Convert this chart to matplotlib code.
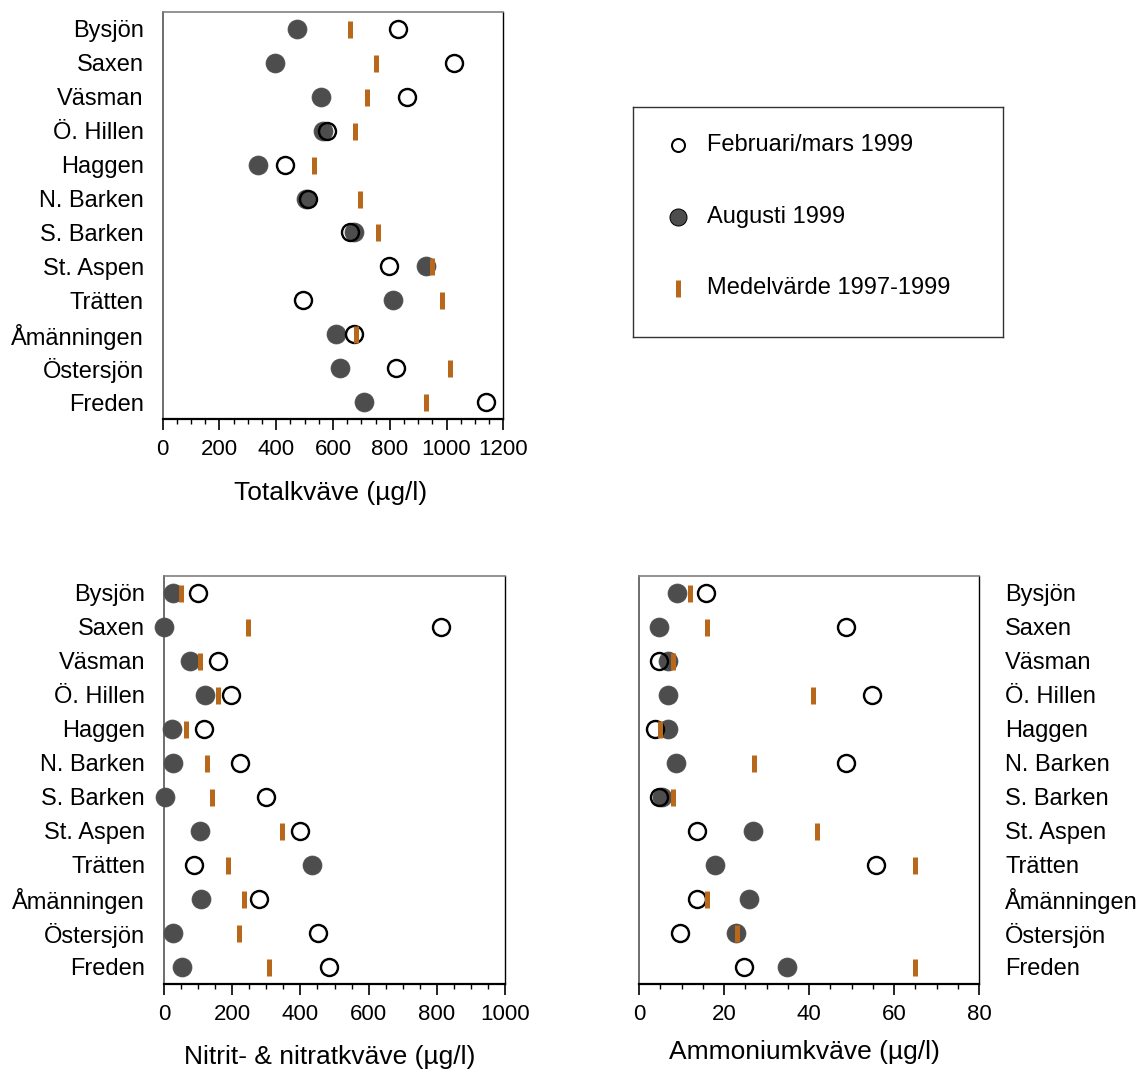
import matplotlib
matplotlib.use("Agg")
import matplotlib.pyplot as plt
import numpy as np
from matplotlib.ticker import MultipleLocator

plt.rcParams['font.family'] = ['Liberation Sans', 'DejaVu Sans']

lakes = ["Bysjön", "Saxen", "Väsman", "Ö. Hillen", "Haggen", "N. Barken",
         "S. Barken", "St. Aspen", "Trätten", "Åmänningen", "Östersjön", "Freden"]

# Totalkväve (µg/l)
tot_feb = [830, 1025, 862, 578, 432, 513, 659, 796, 494, 675, 822, 1140]
tot_aug = [474, 394, 558, 566, 337, 504, 675, 929, 812, 611, 625, 708]
tot_mean = [659, 750, 721, 679, 532, 696, 758, 949, 983, 680, 1011, 928]

# Nitrit- & nitratkväve (µg/l)
nit_feb = [101, 813, 157, 197, 118, 223, 299, 398, 89, 280, 453, 483]
nit_aug = [27, 0, 75, 121, 24, 27, 3, 106, 435, 109, 27, 52]
nit_mean = [51, 247, 107, 158, 65, 127, 142, 347, 188, 236, 219, 308]

# Ammoniumkväve (µg/l)
amm_feb = [15.8, 48.7, 4.7, 54.7, 3.8, 48.7, 4.8, 13.7, 55.7, 13.7, 9.7, 24.7]
amm_aug = [8.9, 4.8, 6.7, 6.8, 6.8, 8.8, 5.3, 26.7, 17.8, 25.8, 22.7, 34.8]
amm_mean = [11.9, 15.9, 8.0, 41.0, 5.0, 27.0, 8.0, 41.9, 65.0, 16.0, 23.0, 65.0]

legend_labels = ["Februari/mars 1999", "Augusti 1999", "Medelvärde 1997-1999"]

W, H = 1141, 1074
DPI = 100
fig = plt.figure(figsize=(W / DPI, H / DPI), dpi=DPI)

GREY = "#4d4d4d"
ORANGE = "#b8681a"
PX = 72 / DPI  # points per pixel


def ax_px(l, t, r, b):
    return fig.add_axes([l / W, 1 - b / H, (r - l) / W, (b - t) / H])


def draw_panel(ax, feb, aug, mean, xmax, major, minor, right_labels=False):
    y = np.arange(len(lakes))
    ax.plot(aug, y, linestyle='none', marker='o', ms=19 * PX, mfc=GREY, mec=GREY,
            mew=0.5, clip_on=False, zorder=3)
    ax.plot(feb, y, linestyle='none', marker='o', ms=17 * PX, mfc='none', mec='black',
            mew=2.4 * PX, clip_on=False, zorder=4)
    ax.plot(mean, y, linestyle='none', marker='|', ms=17 * PX, mec=ORANGE,
            mew=5 * PX, clip_on=False, zorder=5)
    ax.set_xlim(0, xmax)
    ax.set_ylim(len(lakes) - 0.5, -0.5)
    ax.xaxis.set_major_locator(MultipleLocator(major))
    ax.xaxis.set_minor_locator(MultipleLocator(minor))
    ax.tick_params(axis='x', which='major', direction='out', length=11 * PX,
                   width=1.2, color='black', labelsize=16, pad=9 * PX)
    ax.tick_params(axis='x', which='minor', direction='out', length=5 * PX,
                   width=1.0, color='black')
    ax.set_yticks(y)
    ax.set_yticklabels(lakes, fontsize=17, va='center_baseline')
    if right_labels:
        ax.yaxis.tick_right()
        ax.tick_params(axis='y', length=0, pad=26 * PX)
    else:
        ax.tick_params(axis='y', length=0, pad=19 * PX)
    ax.spines['bottom'].set_color('black')
    ax.spines['bottom'].set_linewidth(1.6)
    ax.spines['top'].set_color('#808080')
    ax.spines['top'].set_linewidth(1.2)
    ax.spines['left'].set_color('#555555')
    ax.spines['left'].set_linewidth(1.2)
    ax.spines['right'].set_color('black')
    ax.spines['right'].set_linewidth(1.0)


ax1 = ax_px(162.7, 11.7, 503.3, 419.3)
draw_panel(ax1, tot_feb, tot_aug, tot_mean, 1200, 200, 50)
fig.text(331 / W, 1 - 493 / H, "Totalkväve (µg/l)", ha='center', va='center', fontsize=19)

ax2 = ax_px(164, 575.7, 505, 984)
draw_panel(ax2, nit_feb, nit_aug, nit_mean, 1000, 200, 50)
fig.text(330 / W, 1 - 1057 / H, "Nitrit- & nitratkväve (µg/l)", ha='center', va='center',
         fontsize=19)

ax3 = ax_px(639, 575.7, 979.3, 984)
draw_panel(ax3, amm_feb, amm_aug, amm_mean, 80, 20, 5, right_labels=True)
fig.text(804 / W, 1 - 1052 / H, "Ammoniumkväve (µg/l)", ha='center', va='center',
         fontsize=19)

# Legend box
lax = ax_px(633.3, 106.7, 1002.7, 336.7)
lax.set_xlim(0, 1)
lax.set_ylim(1, 0)
lax.set_xticks([])
lax.set_yticks([])
for s in lax.spines.values():
    s.set_color('#333333')
    s.set_linewidth(1.0)
bw = 1002.7 - 633.3
bh = 336.7 - 106.7
mx = (678.3 - 633.3) / bw
tx = (706.7 - 633.3) / bw
rows = [(145 - 106.7) / bh, (216.7 - 106.7) / bh, (288.3 - 106.7) / bh]
lax.plot([mx], [rows[0]], marker='o', ms=13 * PX, mfc='white', mec='black', mew=2 * PX)
lax.plot([mx], [rows[1]], marker='o', ms=17 * PX, mfc=GREY, mec='black', mew=1 * PX)
lax.plot([mx], [rows[2]], marker='|', ms=17 * PX, mec=ORANGE, mew=5 * PX)
for r, lab in zip(rows, legend_labels):
    lax.text(tx, r, lab, ha='left', va='center', fontsize=17)

fig.savefig("out.png", dpi=DPI)
